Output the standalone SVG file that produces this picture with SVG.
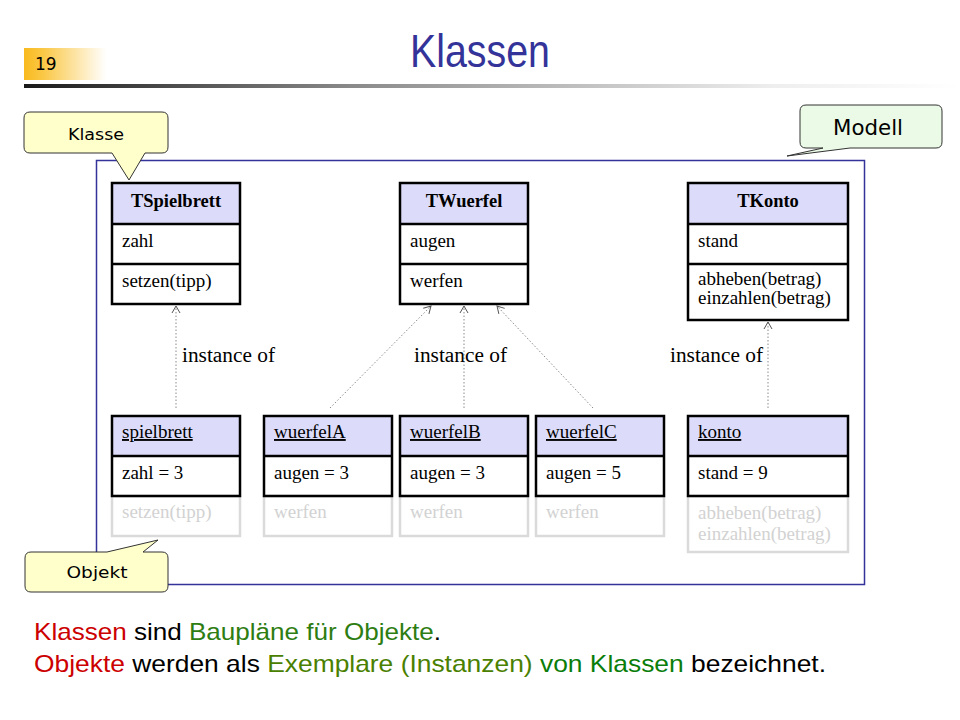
<svg xmlns="http://www.w3.org/2000/svg" width="960" height="720" viewBox="0 0 960 720">
<defs>
<linearGradient id="numGrad" x1="0" y1="0" x2="1" y2="0">
<stop offset="0" stop-color="#F8BA1E"/>
<stop offset="0.25" stop-color="#FBC94A"/>
<stop offset="1" stop-color="#FFFFFF"/>
</linearGradient>
<linearGradient id="lineGrad" x1="0" y1="0" x2="1" y2="0">
<stop offset="0" stop-color="#1a1a1a"/>
<stop offset="0.35" stop-color="#8a8a8a"/>
<stop offset="0.8" stop-color="#eeeeee"/>
<stop offset="1" stop-color="#ffffff"/>
</linearGradient>
<marker id="arr" markerUnits="userSpaceOnUse" markerWidth="12" markerHeight="12" refX="8" refY="5" orient="auto">
<path d="M1,1 L8,5 L1,9" fill="none" stroke="#555" stroke-width="1"/>
</marker>
<style>
.sans{font-family:"DejaVu Sans","Liberation Sans",sans-serif;}
.serif{font-family:"Liberation Serif","Times New Roman",serif;fill:#000;font-size:19px;}
.title{font-weight:bold;font-size:18.5px;text-anchor:middle;}
.hdr{fill:#DCDCFA;stroke:none;}
.box{fill:none;stroke:#000;stroke-width:2.5;}
.div{stroke:#000;stroke-width:2.5;}
.ghost{fill:#fff;stroke:#dadada;stroke-width:2.5;}
.ghostt{fill:#d2d2d2;}
.under{text-decoration:underline;}
.conn{fill:none;stroke:#8a8a8a;stroke-width:1;stroke-dasharray:1.5 2;marker-end:url(#arr);}
.call{stroke:#333;stroke-width:1;}
.lbl{font-family:"Liberation Serif","Times New Roman",serif;font-size:20px;fill:#000;}
</style>
</defs>

<!-- header -->
<g id="header">
<rect x="24" y="48" width="82" height="32" fill="url(#numGrad)"/>
<text x="35" y="70" class="sans" font-size="17" fill="#000">19</text>
<rect x="24" y="84" width="936" height="4" fill="url(#lineGrad)"/>
<text x="480" y="67" font-family="Liberation Sans, Arial, sans-serif" font-size="46" fill="#333399" text-anchor="middle" textLength="140" lengthAdjust="spacingAndGlyphs">Klassen</text>
</g>

<!-- frame -->
<rect id="frame" x="96.5" y="160.5" width="768" height="424" fill="none" stroke="#333399" stroke-width="1.5"/>

<!-- connectors -->
<g id="connectors">
<line class="conn" x1="176" y1="408" x2="176" y2="306"/>
<line class="conn" x1="330" y1="408" x2="431" y2="306"/>
<line class="conn" x1="464" y1="408" x2="464" y2="306"/>
<line class="conn" x1="593" y1="408" x2="497" y2="306"/>
<line class="conn" x1="768" y1="408" x2="768" y2="322"/>
<text class="lbl" x="182" y="362" textLength="93" lengthAdjust="spacingAndGlyphs">instance of</text>
<text class="lbl" x="414" y="362" textLength="93" lengthAdjust="spacingAndGlyphs">instance of</text>
<text class="lbl" x="670" y="362" textLength="93" lengthAdjust="spacingAndGlyphs">instance of</text>
</g>

<!-- classes -->
<g id="TSpielbrett">
<rect class="hdr" x="112" y="183" width="128" height="41"/>
<rect class="box" x="112" y="183" width="128" height="121"/>
<line class="div" x1="112" y1="224" x2="240" y2="224"/>
<line class="div" x1="112" y1="264" x2="240" y2="264"/>
<text class="serif title" x="176" y="207">TSpielbrett</text>
<text class="serif" x="122" y="247">zahl</text>
<text class="serif" x="122" y="287">setzen(tipp)</text>
</g>
<g id="TWuerfel">
<rect class="hdr" x="400" y="183" width="128" height="41"/>
<rect class="box" x="400" y="183" width="128" height="121"/>
<line class="div" x1="400" y1="224" x2="528" y2="224"/>
<line class="div" x1="400" y1="264" x2="528" y2="264"/>
<text class="serif title" x="464" y="207">TWuerfel</text>
<text class="serif" x="410" y="247">augen</text>
<text class="serif" x="410" y="287">werfen</text>
</g>
<g id="TKonto">
<rect class="hdr" x="688" y="183" width="160" height="41"/>
<rect class="box" x="688" y="183" width="160" height="137"/>
<line class="div" x1="688" y1="224" x2="848" y2="224"/>
<line class="div" x1="688" y1="264" x2="848" y2="264"/>
<text class="serif title" x="768" y="207">TKonto</text>
<text class="serif" x="698" y="247">stand</text>
<text class="serif" x="698" y="285">abheben(betrag)</text>
<text class="serif" x="698" y="304">einzahlen(betrag)</text>
</g>

<!-- objects -->
<g id="spielbrett">
<rect class="ghost" x="112" y="496" width="128" height="40"/>
<rect class="hdr" x="112" y="416" width="128" height="40"/>
<rect class="box" x="112" y="416" width="128" height="80"/>
<line class="div" x1="112" y1="456" x2="240" y2="456"/>
<text class="serif under" x="122" y="438">spielbrett</text>
<text class="serif" x="122" y="479">zahl = 3</text>
<text class="serif ghostt" x="122" y="518">setzen(tipp)</text>
</g>
<g id="wuerfelA">
<rect class="ghost" x="264" y="496" width="128" height="40"/>
<rect class="hdr" x="264" y="416" width="128" height="40"/>
<rect class="box" x="264" y="416" width="128" height="80"/>
<line class="div" x1="264" y1="456" x2="392" y2="456"/>
<text class="serif under" x="274" y="438">wuerfelA</text>
<text class="serif" x="274" y="479">augen = 3</text>
<text class="serif ghostt" x="274" y="518">werfen</text>
</g>
<g id="wuerfelB">
<rect class="ghost" x="400" y="496" width="128" height="40"/>
<rect class="hdr" x="400" y="416" width="128" height="40"/>
<rect class="box" x="400" y="416" width="128" height="80"/>
<line class="div" x1="400" y1="456" x2="528" y2="456"/>
<text class="serif under" x="410" y="438">wuerfelB</text>
<text class="serif" x="410" y="479">augen = 3</text>
<text class="serif ghostt" x="410" y="518">werfen</text>
</g>
<g id="wuerfelC">
<rect class="ghost" x="536" y="496" width="128" height="40"/>
<rect class="hdr" x="536" y="416" width="128" height="40"/>
<rect class="box" x="536" y="416" width="128" height="80"/>
<line class="div" x1="536" y1="456" x2="664" y2="456"/>
<text class="serif under" x="546" y="438">wuerfelC</text>
<text class="serif" x="546" y="479">augen = 5</text>
<text class="serif ghostt" x="546" y="518">werfen</text>
</g>
<g id="konto">
<rect class="ghost" x="688" y="496" width="160" height="56"/>
<rect class="hdr" x="688" y="416" width="160" height="40"/>
<rect class="box" x="688" y="416" width="160" height="80"/>
<line class="div" x1="688" y1="456" x2="848" y2="456"/>
<text class="serif under" x="698" y="438">konto</text>
<text class="serif" x="698" y="479">stand = 9</text>
<text class="serif ghostt" x="698" y="519">abheben(betrag)</text>
<text class="serif ghostt" x="698" y="540">einzahlen(betrag)</text>
</g>

<!-- callouts -->
<g id="callout-klasse">
<path class="call" fill="#FFFFCC" d="M30,112 H162 Q168,112 168,118 V147 Q168,153 162,153 H145 L129,180 L112,153 H30 Q24,153 24,147 V118 Q24,112 30,112 Z"/>
<text class="sans" x="96" y="140" font-size="16" fill="#000" text-anchor="middle" textLength="56" lengthAdjust="spacingAndGlyphs">Klasse</text>
</g>
<g id="callout-modell">
<path class="call" fill="#EBFAE6" d="M806,105 H936 Q942,105 942,111 V142 Q942,148 936,148 H850 L787,156 L823,148 H806 Q800,148 800,142 V111 Q800,105 806,105 Z"/>
<text class="sans" x="868" y="135" font-size="21" fill="#000" text-anchor="middle" textLength="70" lengthAdjust="spacingAndGlyphs">Modell</text>
</g>
<g id="callout-objekt">
<path class="call" fill="#FFFFCC" d="M31,552 H107 L158,540 L143,552 H162 Q168,552 168,558 V586 Q168,592 162,592 H31 Q25,592 25,586 V558 Q25,552 31,552 Z"/>
<text class="sans" x="97" y="578" font-size="16" fill="#000" text-anchor="middle" textLength="61" lengthAdjust="spacingAndGlyphs">Objekt</text>
</g>

<!-- bottom text -->
<g id="caption" font-family="Liberation Sans, Arial, sans-serif" font-size="24">
<text x="34" y="640" textLength="407" lengthAdjust="spacingAndGlyphs"><tspan fill="#CC0000">Klassen</tspan><tspan fill="#000"> sind </tspan><tspan fill="#2E7D12">Baupläne für Objekte</tspan><tspan fill="#000">.</tspan></text>
<text x="34" y="672" textLength="792" lengthAdjust="spacingAndGlyphs"><tspan fill="#CC0000">Objekte</tspan><tspan fill="#000"> werden als </tspan><tspan fill="#4A8000">Exemplare (Instanzen)</tspan><tspan fill="#000"> </tspan><tspan fill="#0A7D0A">von Klassen</tspan><tspan fill="#000"> bezeichnet.</tspan></text>
</g>
</svg>
